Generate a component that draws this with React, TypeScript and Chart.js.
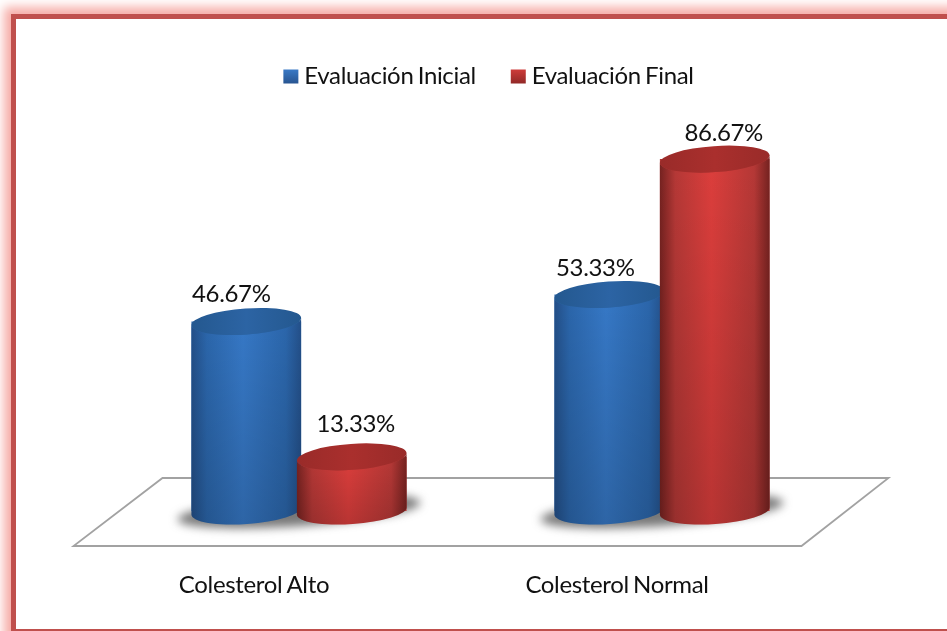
import React, { useEffect, useRef } from "react";
import { Chart, registerables } from "chart.js";

Chart.register(...registerables);

const categories = ["Colesterol Alto", "Colesterol Normal"];
const seriesNames = ["Evaluación Inicial", "Evaluación Final"];
const inicial = [46.67, 53.33];
const final = [13.33, 86.67];

const FONT = "Lato, sans-serif";
const TEXT = "#111111";

type Tone = { edge: string; mid: string; peak: string; cap: string; capLight: string; swatchTop: string; swatchBottom: string };
const BLUE: Tone = { edge: "#234f88", mid: "#2b66ab", peak: "#3678c6", cap: "#24588f", capLight: "#2c64a4", swatchTop: "#3a7bc8", swatchBottom: "#27538f" };
const RED: Tone = { edge: "#752220", mid: "#b53836", peak: "#dc3e3c", cap: "#992b29", capLight: "#aa2f2d", swatchTop: "#d03c3a", swatchBottom: "#8f2826" };
const TONES = [BLUE, RED];

const TILT = (-4 * Math.PI) / 180;
const CAP_RY = 13;

// Value labels sit slightly to the side of each cylinder, as a 3D projection would place them.
const labelShift = [
  [{ dx: -15, dy: -27.5 }, { dx: -14, dy: -26.5 }],
  [{ dx: 4, dy: -33 }, { dx: 9, dy: -26 }],
];

function sideGradient(ctx: CanvasRenderingContext2D, left: number, right: number, t: Tone) {
  const g = ctx.createLinearGradient(left, 0, right, 0);
  g.addColorStop(0, t.edge);
  g.addColorStop(0.14, t.mid);
  g.addColorStop(0.47, t.peak);
  g.addColorStop(0.86, t.mid);
  g.addColorStop(1, t.edge);
  return g;
}

const textSpacingPlugin = {
  id: "textSpacing",
  beforeDraw(chart: any) {
    chart.ctx.letterSpacing = "-0.35px";
    chart.ctx.wordSpacing = "-1.5px";
  },
};

const floorPlugin = {
  id: "floor",
  beforeDatasetsDraw(chart: any) {
    const { ctx, chartArea: a } = chart;
    ctx.save();
    ctx.beginPath();
    ctx.moveTo(a.left + 45, a.bottom - 33);
    ctx.lineTo(a.right + 45, a.bottom - 33);
    ctx.lineTo(a.right - 42, a.bottom + 35);
    ctx.lineTo(a.left - 44, a.bottom + 35);
    ctx.closePath();
    ctx.fillStyle = "#ffffff";
    ctx.fill();
    ctx.strokeStyle = "#a2a2a2";
    ctx.lineWidth = 1.8;
    ctx.stroke();

    // contact shadow on the floor under each group of cylinders
    chart.data.labels.forEach((_: string, i: number) => {
      const first = chart.getDatasetMeta(0).data[i];
      const second = chart.getDatasetMeta(1).data[i];
      ctx.save();
      ctx.filter = "blur(5px)";
      ctx.fillStyle = "rgba(75,75,75,0.75)";
      ctx.beginPath();
      ctx.ellipse((first.x + second.x) / 2, first.base, first.width + 12, 15, TILT, 0, Math.PI * 2);
      ctx.fill();
      ctx.restore();
    });
    ctx.restore();
  },
};

const cylinderPlugin = {
  id: "cylinders",
  afterDatasetsDraw(chart: any) {
    const { ctx } = chart;
    ctx.save();
    chart.data.labels.forEach((_: string, i: number) => {
      [0, 1].forEach((d) => {
        const bar = chart.getDatasetMeta(d).data[i];
        const tone = TONES[d];
        const half = bar.width / 2;
        const rx = half / Math.cos(TILT);
        const rise = half * Math.tan(TILT);
        const left = bar.x - half;
        const right = bar.x + half;

        // wall: from the rim of the top ellipse down to the rim of the base ellipse
        const wall = () => {
          ctx.beginPath();
          ctx.moveTo(right, bar.y + rise);
          ctx.lineTo(right, bar.base + rise);
          ctx.ellipse(bar.x, bar.base, rx, CAP_RY, TILT, 0, Math.PI);
          ctx.lineTo(left, bar.y - rise);
          ctx.ellipse(bar.x, bar.y, rx, CAP_RY, TILT, Math.PI, 0, true);
          ctx.closePath();
        };
        wall();
        ctx.fillStyle = sideGradient(ctx, left, right, tone);
        ctx.fill();

        // the wall dims a little towards the floor
        const dim = ctx.createLinearGradient(0, bar.y, 0, bar.base + CAP_RY);
        dim.addColorStop(0, "rgba(0,0,0,0)");
        dim.addColorStop(1, "rgba(0,0,0,0.16)");
        wall();
        ctx.fillStyle = dim;
        ctx.fill();

        // top face
        const capFill = ctx.createLinearGradient(left, 0, right, 0);
        capFill.addColorStop(0, tone.cap);
        capFill.addColorStop(0.5, tone.capLight);
        capFill.addColorStop(1, tone.cap);
        ctx.beginPath();
        ctx.ellipse(bar.x, bar.y, rx, CAP_RY, TILT, 0, Math.PI * 2);
        ctx.fillStyle = capFill;
        ctx.fill();

        // value label
        const shift = labelShift[d][i];
        ctx.fillStyle = TEXT;
        ctx.font = `24px ${FONT}`;
        ctx.textAlign = "center";
        ctx.textBaseline = "middle";
        const value = chart.data.datasets[d].data[i] as number;
        ctx.fillText(`${value.toFixed(2)}%`, bar.x + shift.dx, bar.y + shift.dy);
      });
    });
    ctx.restore();
  },
};

const legendPlugin = {
  id: "seriesKey",
  afterDraw(chart: any) {
    const { ctx } = chart;
    const swatch = 15;
    const textGap = 6;
    const itemGap = 35;
    const y = 76;
    ctx.save();
    ctx.font = `24px ${FONT}`;
    ctx.textBaseline = "middle";
    ctx.textAlign = "left";
    const widths = seriesNames.map((n) => ctx.measureText(n).width);
    const total = widths[0] + widths[1] + 2 * (swatch + textGap) + itemGap;
    let x = 488.5 - total / 2;
    seriesNames.forEach((name, i) => {
      const g = ctx.createLinearGradient(0, y - 7, 0, y + 8);
      g.addColorStop(0, TONES[i].swatchTop);
      g.addColorStop(1, TONES[i].swatchBottom);
      ctx.fillStyle = g;
      ctx.fillRect(x, y - 6.5, swatch, 14);
      ctx.fillStyle = TEXT;
      ctx.fillText(name, x + swatch + textGap, y);
      x += swatch + textGap + widths[i] + itemGap;
    });
    ctx.restore();
  },
};

export default function App() {
  const ref = useRef<HTMLCanvasElement>(null);

  useEffect(() => {
    document.body.style.margin = "0";
    const chart = new Chart(ref.current!, {
      type: "bar",
      data: {
        labels: categories,
        datasets: [
          { label: seriesNames[0], data: inicial, backgroundColor: BLUE.mid },
          { label: seriesNames[1], data: final, backgroundColor: RED.mid },
        ],
      },
      options: {
        responsive: false,
        animation: false,
        categoryPercentage: 0.581,
        barPercentage: 1.04,
        layout: { padding: { left: 117.5, right: 103.5, top: 105, bottom: 30 } },
        plugins: { legend: { display: false }, tooltip: { enabled: false } },
        scales: {
          x: {
            grid: { display: false },
            border: { display: false },
            afterFit(scale: any) {
              scale.height = 90;
            },
            ticks: {
              color: TEXT,
              font: { family: FONT, size: 24 },
              padding: 52,
              labelOffset: -45,
              maxRotation: 0,
              autoSkip: false,
            },
          },
          y: { display: false, min: 0, max: 100 },
        },
      },
      plugins: [textSpacingPlugin, floorPlugin, cylinderPlugin, legendPlugin],
    } as any);
    return () => chart.destroy();
  }, []);

  return (
    <div style={{ position: "relative", width: 947, height: 631, overflow: "hidden", background: "#fff" }}>
      <div
        style={{
          position: "absolute",
          left: 11,
          top: 14,
          width: 1000,
          height: 620,
          boxSizing: "border-box",
          border: "5px solid #c0504d",
          boxShadow: "0 0 10px 7px #f6aca7",
          background: "#fff",
        }}
      />
      <canvas ref={ref} width={947} height={631} style={{ position: "absolute", left: 0, top: 0, display: "block" }} />
    </div>
  );
}
